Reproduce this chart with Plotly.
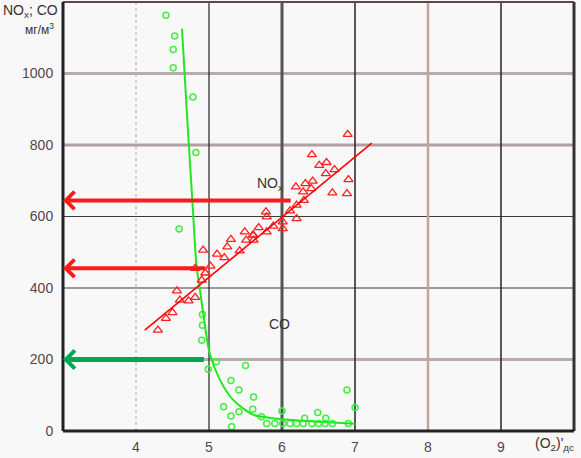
import plotly.graph_objects as go

# ---------------- data ----------------
co_x = [4.41, 4.53, 4.51, 4.51, 4.78, 4.82, 4.59, 4.91, 4.91, 4.90, 5.10, 4.99, 5.50, 5.30,
        5.41, 5.61, 5.60, 5.20, 5.41, 5.30, 5.31, 6.00, 6.49, 6.89, 7.00, 6.60, 6.31, 5.72,
        5.79, 5.90, 6.01, 6.11, 6.20, 6.29, 6.41, 6.50, 6.59, 6.69, 6.91]
co_y = [1163, 1105, 1067, 1016, 934, 779, 565, 326, 296, 254, 194, 173, 183, 141,
        115, 95, 61, 68, 54, 42, 12, 56, 52, 115, 66, 36, 36, 40,
        21, 21, 21, 21, 21, 21, 21, 21, 21, 21, 21]

co_curve_x = [4.63, 4.70, 4.77, 4.83, 4.88, 4.92, 5.01, 5.15, 5.33, 5.61, 5.80, 6.00, 6.50, 7.00]
co_curve_y = [1125, 880, 650, 460, 390, 330, 217, 143, 87, 45, 38, 33, 26, 20]

nox_x = [4.30, 4.41, 4.50, 4.56, 4.60, 4.72, 4.81, 4.90, 4.95, 4.81, 4.92, 5.02, 5.11, 5.21,
         5.25, 5.30, 5.42, 5.49, 5.61, 5.51, 5.61, 6.90, 6.41, 6.51, 6.61, 6.72, 6.60, 6.91,
         6.42, 6.32, 6.19, 6.40, 6.69, 6.89, 6.29, 6.30, 6.20, 6.11, 6.20, 6.01, 6.01, 5.88,
         5.79, 5.78, 5.68, 5.60, 5.79]
nox_y = [282, 315, 331, 392, 366, 364, 374, 422, 442, 455, 506, 461, 495, 485,
         515, 536, 504, 557, 548, 534, 534, 830, 773, 743, 751, 731, 720, 703,
         699, 692, 683, 678, 666, 664, 669, 645, 632, 616, 594, 585, 566, 573,
         599, 613, 569, 548, 557]

nox_line_x = [4.12, 7.23]
nox_line_y = [282, 805]

arrow_y = [645, 455, 200]
arrow_end_x = [6.14, 4.97, 4.95]

x_ticks = [4, 5, 6, 7, 8, 9]
y_ticks = [0, 200, 400, 600, 800, 1000]

# ---------------- figure ----------------
fig = go.Figure()

fig.add_trace(go.Scatter(x=co_x, y=co_y, mode="markers",
                         marker=dict(symbol="circle-open", size=6, color="#44ee44",
                                     line=dict(width=1.5, color="#44ee44")),
                         showlegend=False, cliponaxis=False))
fig.add_trace(go.Scatter(x=co_curve_x, y=co_curve_y, mode="lines",
                         line=dict(color="#22e622", width=2, shape="spline", smoothing=0.8),
                         showlegend=False))
fig.add_trace(go.Scatter(x=nox_x, y=nox_y, mode="markers",
                         marker=dict(symbol="triangle-up-open", size=8, color="#ff2020",
                                     line=dict(width=1.3, color="#ff2020")),
                         showlegend=False))
fig.add_trace(go.Scatter(x=nox_line_x, y=nox_line_y, mode="lines",
                         line=dict(color="#ff0000", width=1.6), showlegend=False))

# gridlines
shapes = []
hstyle = {0: None, 200: ("#b9abab", 3), 400: ("#3a3a3a", 1), 600: ("#3a3a3a", 1),
          800: ("#b0a0a0", 3), 1000: ("#b9abab", 3)}
for yv in y_ticks:
    st = hstyle[yv]
    if st is None:
        continue
    shapes.append(dict(type="line", xref="paper", yref="y", x0=0, x1=1, y0=yv, y1=yv,
                       line=dict(color=st[0], width=st[1]), layer="below"))
vstyle = {4: ("#b8a8a8", 1, "dot"), 5: ("#222222", 1.2, "solid"), 6: ("#555555", 3, "solid"),
          7: ("#2a2020", 1.5, "solid"), 8: ("#c9a0a0", 2.5, "solid"), 9: ("#2a2020", 1.5, "solid")}
for xv in x_ticks:
    c, w, d = vstyle[xv]
    shapes.append(dict(type="line", xref="x", yref="paper", x0=xv, x1=xv, y0=0, y1=1,
                       line=dict(color=c, width=w, dash=d), layer="below"))
# frame
shapes.append(dict(type="line", xref="paper", yref="paper", x0=0, x1=1, y0=1, y1=1,
                   line=dict(color="#5a4a4a", width=2)))
shapes.append(dict(type="line", xref="paper", yref="paper", x0=1, x1=1, y0=0, y1=1,
                   line=dict(color="#333333", width=3)))
shapes.append(dict(type="line", xref="paper", yref="paper", x0=0, x1=0, y0=0, y1=1,
                   line=dict(color="#222222", width=3)))
shapes.append(dict(type="line", xref="paper", yref="paper", x0=0, x1=1, y0=0, y1=0,
                   line=dict(color="#222222", width=3)))

annotations = []
arrow_colors = ["#ff1a1a", "#ff1a1a", "#00a651"]
arrow_widths = [4, 4, 5]
arrow_sizes = [0.85, 0.85, 0.7]
for yv, xe, c, w, s in zip(arrow_y, arrow_end_x, arrow_colors, arrow_widths, arrow_sizes):
    annotations.append(dict(x=3.0, y=yv, ax=xe, ay=yv, xref="x", yref="y", axref="x", ayref="y",
                            text="", showarrow=True, arrowhead=4, arrowsize=s,
                            arrowwidth=w, arrowcolor=c, standoff=0))

txt_font = dict(family="Liberation Sans, Arial", size=14, color="#3a3030")
annotations.append(dict(x=5.84, y=690, xref="x", yref="y", text="NO<sub>x</sub>",
                        showarrow=False, font=txt_font))
annotations.append(dict(x=5.97, y=299, xref="x", yref="y", text="CO",
                        showarrow=False, font=txt_font))
annotations.append(dict(x=-0.122, y=0.979, xref="paper", yref="paper", xanchor="left",
                        yanchor="middle", text="NO<sub>x</sub>; CO", showarrow=False,
                        font=dict(family="Liberation Sans, Arial", size=14, color="#3a3030")))
annotations.append(dict(x=-0.046, y=0.938, xref="paper", yref="paper", xanchor="center",
                        yanchor="middle", text="мг/м<sup>3</sup>", showarrow=False,
                        font=dict(family="Liberation Sans, Arial", size=12, color="#3a3030")))
annotations.append(dict(x=0.962, y=-0.031, xref="paper", yref="paper", xanchor="center",
                        yanchor="middle", text="(O<sub>2</sub>)'<sub>дс</sub>", showarrow=False,
                        font=dict(family="Liberation Sans, Arial", size=14, color="#3a3030")))

tick_font = dict(family="Liberation Sans, Arial", size=14, color="#574545")
fig.update_layout(
    width=581, height=458,
    margin=dict(l=63, r=7, t=2, b=27),
    paper_bgcolor="#f8f8f8", plot_bgcolor="#f8f8f8",
    shapes=shapes, annotations=annotations,
    xaxis=dict(range=[3, 10], tickvals=x_ticks, ticktext=[str(v) for v in x_ticks],
               showgrid=False, zeroline=False, showline=False, ticks="outside",
               ticklen=3, tickcolor="rgba(0,0,0,0)", tickfont=tick_font),
    yaxis=dict(range=[0, 1200], tickvals=y_ticks, ticktext=[str(v) for v in y_ticks],
               showgrid=False, zeroline=False, showline=False, ticks="outside",
               ticklen=6, tickcolor="rgba(0,0,0,0)", tickfont=tick_font),
)

fig.write_html("out.html", config={"displayModeBar": False},
               post_script="document.body.style.margin='0';document.body.style.padding='0';"
                           "document.documentElement.style.background='#f8f8f8';")
